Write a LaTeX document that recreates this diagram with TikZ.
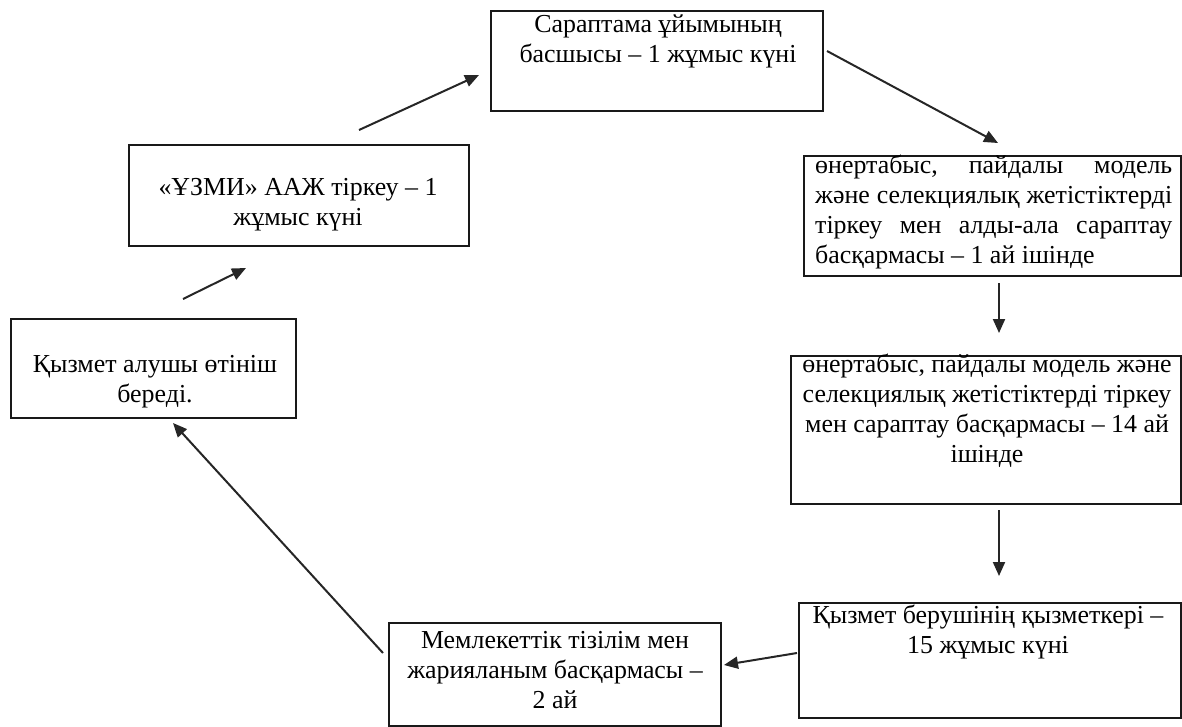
\documentclass[tikz,border=0pt]{standalone}
\usepackage{fontspec}
\setmainfont{Liberation Serif}
\usetikzlibrary{arrows.meta}
% fixed interword spaces of the font's own width inside aligned node text
\newcommand\fontspaces{\spaceskip=.25em\relax\xspaceskip=.25em\relax}
\newcommand\stepfont{\fontsize{25.9}{30}\selectfont}
\begin{document}
\begin{tikzpicture}[x=1pt,y=-1pt,
  frame/.style={draw=black!90, line width=2pt, inner sep=0pt, anchor=north west},
  boxtext/.style={font=\stepfont, inner sep=0pt, align=center},
  flow/.style={draw=black!85, line width=2pt, -{Triangle[length=14pt,width=12pt]}}]
\useasboundingbox (0,0) rectangle (1182,726);

% frames of the steps
\node[frame, minimum width=332pt, minimum height=100pt] (b1) at (490,10) {};
\node[frame, minimum width=377pt, minimum height=120pt] (b2) at (803,155) {};
\node[frame, minimum width=390pt, minimum height=148pt] (b3) at (790,355) {};
\node[frame, minimum width=382pt, minimum height=115pt] (b4) at (798,602) {};
\node[frame, minimum width=332pt, minimum height=103pt] (b5) at (388,622) {};
\node[frame, minimum width=285pt, minimum height=99pt] (b6) at (10,318) {};
\node[frame, minimum width=340pt, minimum height=101pt] (b7) at (128,144) {};

% texts of the steps
\node[boxtext, text width=320pt, anchor=base] (t1) at (658,32)
  {\fontspaces Сараптама ұйымының\\басшысы – 1 жұмыс күні};
\node[boxtext, text width=357pt, anchor=base west] (t2) at (815,173)
  {\fontspaces
   \makebox[357pt]{өнертабыс,\hfill пайдалы\hfill модель}\\
   \makebox[357pt]{және\hfill селекциялық\hfill жетістіктерді}\\
   \makebox[357pt]{тіркеу\hfill мен\hfill алды-ала\hfill сараптау}\\
   \makebox[357pt][l]{басқармасы – 1 ай ішінде}};
\node[boxtext, text width=384pt, anchor=base] (t3) at (987,372)
  {\fontspaces өнертабыс, пайдалы модель және\\селекциялық жетістіктерді тіркеу\\мен сараптау басқармасы – 14 ай\\ішінде};
\node[boxtext, text width=372pt, anchor=base] (t4) at (988,623)
  {\fontspaces Қызмет берушінің қызметкері –\\15 жұмыс күні};
\node[boxtext, text width=324pt, anchor=base] (t5) at (555,648)
  {\fontspaces Мемлекеттік тізілім мен\\жарияланым басқармасы –\\2 ай};
\node[boxtext, text width=275pt, anchor=base] (t6) at (155,372)
  {\fontspaces Қызмет алушы өтініш\\береді.};
\node[boxtext, text width=330pt, anchor=base] (t7) at (298,195)
  {\fontspaces «ҰЗМИ» ААЖ тіркеу – 1\\жұмыс күні};

% arrow ends
\coordinate (s67) at (183,299);  \coordinate (e67) at (246,268);
\coordinate (s71) at (359,130);  \coordinate (e71) at (479,75);
\coordinate (s12) at (827,51);   \coordinate (e12) at (998,143);
\coordinate (s23) at (999,283);  \coordinate (e23) at (999,333);
\coordinate (s34) at (999,510);  \coordinate (e34) at (999,576);
\coordinate (s45) at (797,653);  \coordinate (e45) at (724,665);
\coordinate (s56) at (383,653);  \coordinate (e56) at (173,423);

\draw[flow] (s67) -- (e67);
\draw[flow] (s71) -- (e71);
\draw[flow] (s12) -- (e12);
\draw[flow] (s23) -- (e23);
\draw[flow] (s34) -- (e34);
\draw[flow] (s45) -- (e45);
\draw[flow] (s56) -- (e56);
\end{tikzpicture}
\end{document}
